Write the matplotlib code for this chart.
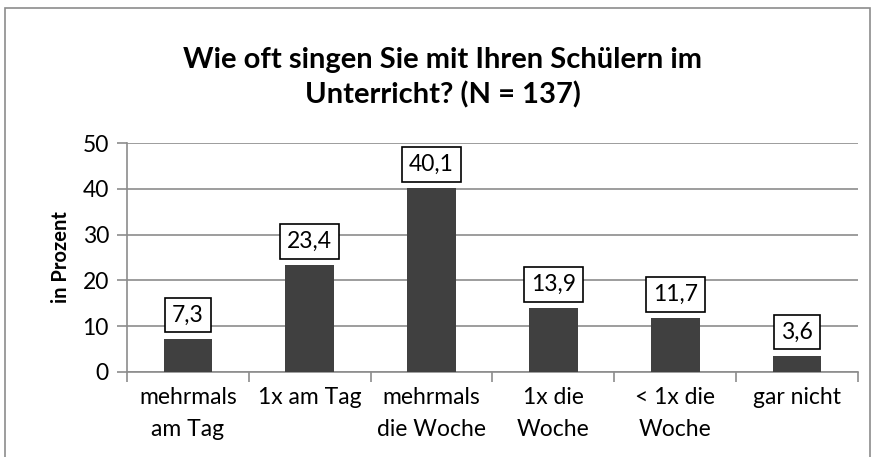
import matplotlib.pyplot as plt

categories = ['mehrmals\nam Tag', '1x am Tag', 'mehrmals\ndie Woche', '1x die\nWoche', '< 1x die\nWoche', 'gar nicht']
values = [7.3, 23.4, 40.1, 13.9, 11.7, 3.6]
labels = ['7,3', '23,4', '40,1', '13,9', '11,7', '3,6']

plt.rcParams['font.family'] = ['Lato', 'DejaVu Sans']

fig = plt.figure(figsize=(8.77, 4.57), dpi=100)
# outer chart border
fig.patches.append(plt.Rectangle((5 / 877, -0.1), 865 / 877, 1.1 - 8 / 457, transform=fig.transFigure,
                                 fill=False, edgecolor='#8c8c8c', linewidth=1.2))

ax = fig.add_axes([0.1448, 0.186, 0.8335, 0.501])
x = range(len(values))
ax.bar(x, values, width=0.4, color='#404040', zorder=3)
ax.set_xlim(-0.5, len(values) - 0.5)
ax.set_ylim(0, 50)
ax.set_yticks(range(0, 51, 10))
ax.yaxis.grid(True, color='#8c8c8c', linewidth=1.2, zorder=0)

for s in ['top', 'right']:
    ax.spines[s].set_visible(False)
ax.spines['left'].set_color('#8c8c8c')
ax.spines['bottom'].set_color('#8c8c8c')
ax.spines['left'].set_linewidth(1.2)
ax.spines['bottom'].set_linewidth(1.2)

ax.set_xticks([i + 0.5 for i in range(-1, len(values))])
ax.set_xticklabels([])
ax.set_xticks(list(x), minor=True)
ax.set_xticklabels(categories, minor=True, fontsize=16.5, linespacing=1.65)
ax.tick_params(axis='x', which='major', length=7, width=1.2, color='#8c8c8c')
ax.tick_params(axis='x', which='minor', length=0, pad=11)
ax.tick_params(axis='y', length=7, width=1.2, color='#8c8c8c', labelsize=16.5, pad=6)

for i, (v, t) in enumerate(zip(values, labels)):
    ax.annotate(t, (i, v), xytext=(0, 17), textcoords='offset points', ha='center', va='center',
                fontsize=16.5, zorder=4,
                bbox=dict(boxstyle='square,pad=0.3', facecolor='white', edgecolor='black', linewidth=1.2))

ax.set_ylabel('in Prozent', fontsize=14.5, fontweight='bold', labelpad=8)
fig.text(0.505, 0.83, 'Wie oft singen Sie mit Ihren Schülern im\nUnterricht? (N = 137)', ha='center', va='center',
         fontsize=21, fontweight='bold', linespacing=1.35)

fig.savefig('out.png', dpi=100)
